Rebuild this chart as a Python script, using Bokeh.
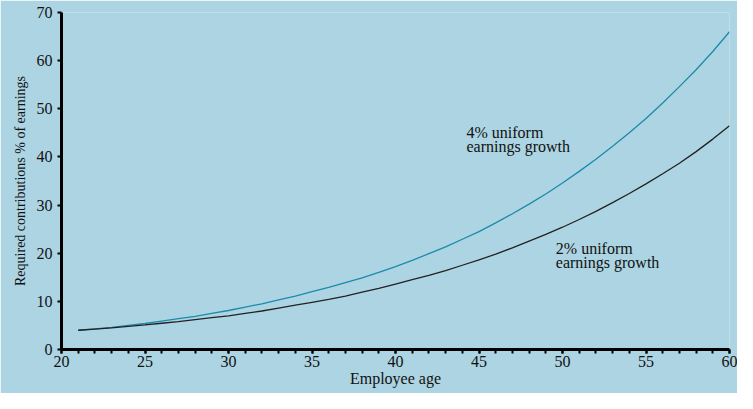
from bokeh.plotting import figure
from bokeh.models import Range1d, FixedTicker, ColumnDataSource
from bokeh.core.properties import value
from bokeh.embed import file_html
from bokeh.resources import INLINE

ages = list(range(21, 61))
growth_4pct = [4.0, 4.3, 4.6, 5.0, 5.4, 5.9, 6.4, 6.9, 7.5, 8.1,
               8.8, 9.5, 10.3, 11.1, 12.0, 12.9, 13.9, 14.9, 16.0, 17.2,
               18.5, 19.9, 21.3, 22.9, 24.5, 26.3, 28.2, 30.2, 32.3, 34.6,
               37.0, 39.5, 42.2, 45.0, 48.0, 51.2, 54.6, 58.1, 61.9, 66.0]
growth_2pct = [4.0, 4.25, 4.5, 4.8, 5.1, 5.45, 5.8, 6.2, 6.6, 7.0,
               7.5, 8.0, 8.6, 9.2, 9.8, 10.4, 11.1, 11.9, 12.7, 13.6,
               14.5, 15.4, 16.4, 17.5, 18.6, 19.8, 21.1, 22.5, 23.9, 25.4,
               27.0, 28.7, 30.5, 32.4, 34.4, 36.5, 38.7, 41.1, 43.7, 46.5]

x_ticks = [20, 25, 30, 35, 40, 45, 50, 55, 60]
x_minor = list(range(20, 61))
y_ticks = [0, 10, 20, 30, 40, 50, 60, 70]

label_4 = ["4% uniform", "earnings growth"]
label_4_pos = (44.25, [45.1, 42.1])
label_2 = ["2% uniform", "earnings growth"]
label_2_pos = (49.6, [21.0, 18.0])

BG = "#acd4e2"
TEAL = "#1c8aab"
DARK = "#222222"
FONT = "Liberation Serif"

p = figure(frame_width=668, frame_height=337, output_backend="svg", toolbar_location=None,
           x_range=Range1d(20, 60), y_range=Range1d(0, 70),
           min_border_left=61, min_border_right=8, min_border_top=12, min_border_bottom=44)
p.background_fill_color = BG
p.border_fill_color = BG
p.outline_line_color = None
p.grid.visible = False

p.line(ages, growth_4pct, line_color=TEAL, line_width=1.3)
p.line(ages, growth_2pct, line_color=DARK, line_width=1.3)

src4 = ColumnDataSource(dict(x=[label_4_pos[0]] * 2, y=label_4_pos[1], t=label_4))
src2 = ColumnDataSource(dict(x=[label_2_pos[0]] * 2, y=label_2_pos[1], t=label_2))
for s in (src4, src2):
    p.text(x="x", y="y", text="t", source=s, text_font=value(FONT), text_font_size="16px",
           text_color="#111111", text_align="left", text_baseline="middle")

for ax in (p.xaxis[0], p.yaxis[0]):
    ax.axis_line_width = 3
    ax.axis_line_color = "black"
    ax.major_tick_line_width = 2
    ax.minor_tick_line_width = 2
    ax.major_tick_line_color = "black"
    ax.minor_tick_line_color = "black"
    ax.major_tick_in = 0
    ax.minor_tick_in = 0
    ax.major_tick_out = 4
    ax.major_label_text_font = FONT
    ax.major_label_text_font_size = "16px"
    ax.major_label_text_color = "#111111"
    ax.axis_label_text_font = FONT
    ax.axis_label_text_font_style = "normal"
    ax.axis_label_text_color = "#111111"

p.xaxis.ticker = FixedTicker(ticks=x_ticks, minor_ticks=x_minor)
p.xaxis.minor_tick_out = 4
p.xaxis.major_label_standoff = 2
p.xaxis.axis_label = "Employee age"
p.xaxis.axis_label_text_font_size = "16px"
p.xaxis.axis_label_standoff = 0

p.yaxis.ticker = FixedTicker(ticks=y_ticks, minor_ticks=[])
p.yaxis.minor_tick_out = 0
p.yaxis.major_label_standoff = 5
p.yaxis.axis_label = "Required contributions % of earnings"
p.yaxis.axis_label_text_font_size = "14px"
p.yaxis.axis_label_standoff = 6

open("out.html", "w").write(file_html(p, INLINE))
